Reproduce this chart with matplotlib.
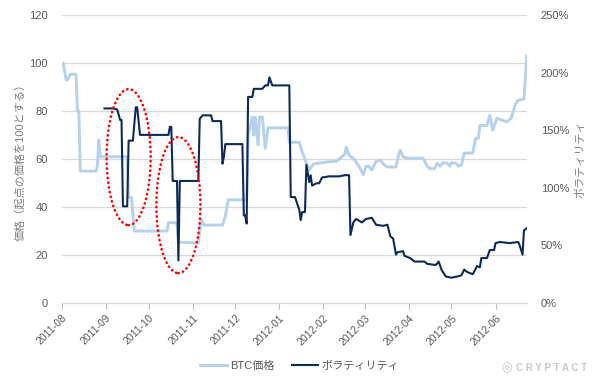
import datetime as dt

import matplotlib
matplotlib.use("Agg")
import matplotlib.dates as mdates
import matplotlib.pyplot as plt
from matplotlib.patches import Ellipse
from matplotlib.ticker import FuncFormatter, MultipleLocator

plt.rcParams["font.family"] = ["Liberation Sans", "Noto Sans CJK JP", "DejaVu Sans"]

START = dt.date(2011, 8, 1)

# BTC price (start = 100), days counted from 2011-08-01
btc_days = [0, 1, 3, 4, 6, 10, 11, 12, 13, 24, 25, 26, 27, 46, 47, 49, 51, 74, 75,
            81, 82, 96, 98, 100, 113, 115, 117, 130, 131, 134, 135, 136, 138, 139,
            141, 143, 145, 159, 160, 167, 169, 172, 174, 177, 181, 186, 190, 193,
            196, 199, 200, 202, 206, 209, 212, 214, 216, 218, 221, 224, 226, 229,
            235, 237, 238, 240, 243, 254, 257, 259, 262, 264, 266, 268, 271, 273,
            274, 277, 279, 281, 283, 289, 291, 293, 294, 299, 301, 303, 306, 313,
            316, 319, 321, 325, 327]
btc_price = [100, 100, 93, 93, 95.4, 95.4, 80, 80, 55, 55, 57, 68, 61, 61, 44, 44,
             30, 30, 33.5, 33.5, 25.4, 25, 35, 32.5, 32.5, 36, 43, 43, 70, 77.5, 70,
             77.5, 66, 77.5, 77.5, 64.5, 73, 73, 67, 67, 63, 58.3, 55.4, 58, 58.3,
             58.8, 59, 59, 60.5, 62, 65, 61.7, 59.6, 57, 53.5, 57, 57, 55.5, 59, 59.6,
             58, 56.7, 56.7, 62, 63.7, 61, 60.4, 60.4, 57, 56, 56, 58.3, 57, 58.5,
             58.3, 57, 58.5, 58.3, 57, 57.5, 62.5, 62.5, 68.7, 68.7, 74, 74, 78.3,
             72, 77, 75.5, 77, 83, 84.6, 85, 103]

# volatility (%)
vol_days = [30, 36, 39, 41, 42, 43, 46, 47, 50, 52, 53, 55, 75, 76, 77, 78, 81, 82,
            83, 96, 97, 99, 105, 106, 112, 113, 114, 115, 127, 128, 129, 130, 131,
            134, 135, 141, 143, 145, 146, 148, 160, 161, 164, 167, 168, 169, 171,
            172, 174, 175, 176, 179, 181, 183, 188, 195, 199, 202, 203, 205, 207,
            211, 214, 218, 221, 226, 229, 231, 233, 235, 236, 240, 241, 245, 248,
            255, 257, 263, 265, 267, 270, 274, 278, 281, 283, 285, 289, 292, 294,
            295, 299, 301, 304, 305, 308, 315, 321, 322, 324, 325, 327]
volatility = [169, 169, 168, 159, 159, 84, 84, 141, 141, 170, 170, 146, 146, 153,
              153, 106, 106, 37, 106, 106, 160, 163, 163, 158, 158, 121, 127, 138,
              138, 76, 76, 69, 179, 179, 186, 186, 189, 189, 196, 189, 189, 92, 92,
              81, 72, 79, 79, 120, 105, 111, 102, 104, 104, 109, 110, 110, 111, 111,
              59, 70, 73, 70, 73, 74, 68, 67, 68, 58, 56, 42, 44, 45, 41, 39, 36, 36,
              34, 33, 36, 29, 23, 22, 23, 24, 29, 27, 25, 32, 31, 39, 39, 46, 46, 52,
              53, 52, 53, 50, 42, 63, 65]

# highlighted periods: (centre day, centre price)
highlight_days = [47, 82]
highlight_price = [60.8, 40.8]

x_btc = [START + dt.timedelta(days=d) for d in btc_days]
x_vol = [START + dt.timedelta(days=d) for d in vol_days]

light_blue = "#b5d1eb"
navy = "#0c2b5b"
grey_text = "#595959"

fig = plt.figure(figsize=(6, 3.79), dpi=100)
ax = fig.add_axes([0.103, 0.2005, 0.775, 0.7595])
ax2 = ax.twinx()

line1, = ax.plot(x_btc, btc_price, color=light_blue, lw=2.1, label="BTC価格")
line2, = ax2.plot(x_vol, volatility, color=navy, lw=1.5, label="ボラティリティ")

ax.set_xlim(START, START + dt.timedelta(days=327))
ax.set_ylim(0, 120)
ax2.set_ylim(0, 250)
ax.yaxis.set_major_locator(MultipleLocator(20))
ax2.yaxis.set_major_locator(MultipleLocator(50))
ax2.yaxis.set_major_formatter(FuncFormatter(lambda v, p: f"{v:.0f}%"))

ax.xaxis.set_major_locator(mdates.MonthLocator())
ax.xaxis.set_major_formatter(mdates.DateFormatter("%Y-%m"))
plt.setp(ax.get_xticklabels(), rotation=45, ha="right", rotation_mode="anchor")

ax.grid(axis="y", color="#d9d9d9", lw=0.9)
ax.set_axisbelow(True)
for a in (ax, ax2):
    for side in ("top", "left", "right"):
        a.spines[side].set_visible(False)
    a.spines["bottom"].set_color("#d9d9d9")
ax.tick_params(axis="x", colors="#bfbfbf", labelcolor=grey_text, length=4,
               labelsize=7.5, pad=3)
ax.tick_params(axis="y", length=0, labelcolor=grey_text, labelsize=8, pad=10)
ax2.tick_params(axis="y", length=0, labelcolor=grey_text, labelsize=8, pad=10)

ax.set_ylabel("価格（起点の価格を100とする）", color="#7f7f7f", fontsize=8, labelpad=3)
ax2.set_ylabel("ボラティリティ", color="#7f7f7f", fontsize=8, labelpad=4)

for d, p in zip(highlight_days, highlight_price):
    centre = mdates.date2num(START + dt.timedelta(days=d))
    ring = Ellipse((centre, p), width=31, height=56.7, transform=ax.transData,
                   fill=False, edgecolor="red", lw=1.9, linestyle=(0, (0.1, 1.7)),
                   zorder=5)
    ring.set_capstyle("round")
    ax2.add_patch(ring)

fig.legend(handles=[line1, line2], loc="lower center", bbox_to_anchor=(0.5, -0.005),
           ncol=2, frameon=False, fontsize=8, handlelength=2.4, handletextpad=0.3,
           columnspacing=1.5, labelcolor=grey_text)

fig.text(0.978, 0.03, "C R Y P T A C T", ha="right", va="center", fontsize=7,
         color="#c8c8c8", fontweight="bold")
fig.text(0.845, 0.03, "◎", ha="center", va="center", fontsize=9, color="#c8c8c8",
         family=["DejaVu Sans"])

fig.savefig("out.png", dpi=100)
